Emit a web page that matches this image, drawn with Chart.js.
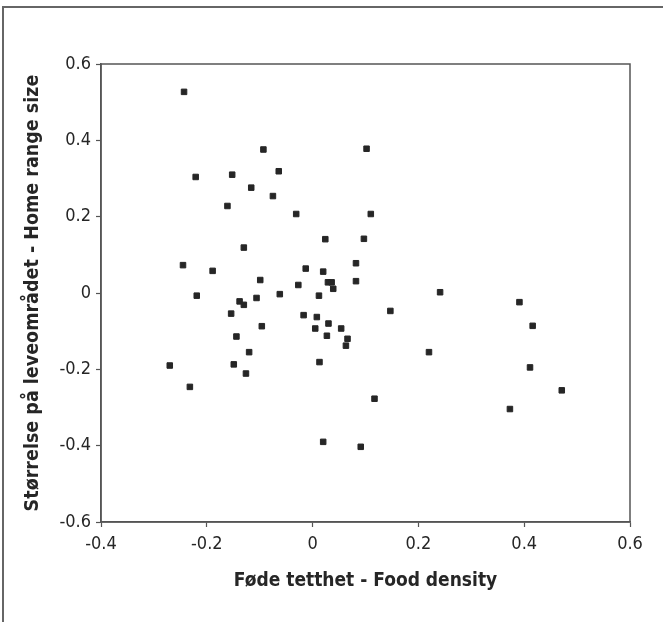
<!DOCTYPE html>
<html>
<head>
<meta charset="utf-8">
<script src="https://cdn.jsdelivr.net/npm/chart.js@4"></script>
<style>
  html, body { margin: 0; padding: 0; background: #fff; }
  #wrap { width: 663px; height: 622px; position: relative; }
</style>
</head>
<body>
<div id="wrap"><canvas id="myChart" width="663" height="622"></canvas></div>
<script>
// food density (x) and home range size (y)
const foodDensity = [
  -0.243, -0.093, -0.064, -0.221, -0.152, -0.116, -0.075, -0.161, -0.031, -0.130,
  0.024, -0.245, -0.189, -0.013, 0.020, -0.099, -0.027, 0.029, 0.036, 0.039,
  0.082, 0.082, -0.219, -0.062, 0.012, 0.102, 0.110, 0.097, 0.241, -0.154,
  -0.138, -0.130, -0.106, -0.096, -0.144, -0.120, -0.270, -0.149, -0.126, -0.232,
  -0.017, 0.008, 0.005, 0.030, 0.027, 0.054, 0.066, 0.063, 0.013, 0.020,
  0.147, 0.391, 0.416, 0.220, 0.411, 0.471, 0.373, 0.117, 0.091
];
const homeRange = [
  0.527, 0.376, 0.319, 0.304, 0.310, 0.276, 0.254, 0.228, 0.207, 0.119,
  0.141, 0.073, 0.058, 0.064, 0.056, 0.034, 0.021, 0.028, 0.028, 0.011,
  0.078, 0.031, -0.007, -0.003, -0.007, 0.378, 0.207, 0.142, 0.002, -0.054,
  -0.022, -0.031, -0.013, -0.087, -0.114, -0.155, -0.190, -0.187, -0.211, -0.246,
  -0.058, -0.063, -0.093, -0.080, -0.112, -0.093, -0.120, -0.138, -0.181, -0.390,
  -0.047, -0.024, -0.086, -0.155, -0.195, -0.255, -0.304, -0.277, -0.403
];
const xTicks = [-0.4, -0.2, 0, 0.2, 0.4, 0.6];
const yTicks = [-0.6, -0.4, -0.2, 0, 0.2, 0.4, 0.6];
const xTitle = "Føde tetthet - Food density";
const yTitle = "Størrelse på leveområdet - Home range size";

const points = foodDensity.map((x, i) => ({ x: x, y: homeRange[i] }));
const fontFamily = "'DejaVu Sans Condensed', 'Open Sans', sans-serif";
const ink = "#262626";

// box around plot area and the outer frame of the figure
const frame = {
  id: "frame",
  afterDraw(chart) {
    const c = chart.ctx;
    const a = chart.chartArea;
    c.save();
    c.strokeStyle = "#555";
    c.lineWidth = 1.5;
    c.strokeRect(a.left, a.top, a.right - a.left, a.bottom - a.top);
    c.strokeStyle = "#666";
    c.lineWidth = 2;
    c.beginPath();
    c.moveTo(3, 622);
    c.lineTo(3, 7);
    c.lineTo(663, 7);
    c.stroke();
    c.restore();
  }
};

const ctx = document.getElementById("myChart").getContext("2d");
new Chart(ctx, {
  type: "scatter",
  data: {
    datasets: [{
      data: points,
      pointStyle: "rect",
      pointRadius: 3.9,
      borderWidth: 1,
      backgroundColor: ink,
      borderColor: ink
    }]
  },
  options: {
    responsive: false,
    animation: false,
    layout: { padding: { top: 64, right: 33, left: 0, bottom: 0 } },
    plugins: { legend: { display: false }, tooltip: { enabled: false } },
    scales: {
      x: {
        type: "linear",
        min: -0.4,
        max: 0.6,
        afterFit(scale) { scale.height = 100; },
        afterBuildTicks(scale) { scale.ticks = xTicks.map(v => ({ value: v })); },
        grid: { drawOnChartArea: false, tickLength: 5, tickColor: "#555", tickWidth: 1.2 },
        border: { color: "#555", width: 1.5 },
        ticks: {
          padding: 7,
          color: ink,
          font: { family: fontFamily, size: 18 },
          callback: v => String(+v.toFixed(1))
        },
        title: {
          display: true,
          text: xTitle,
          color: ink,
          font: { family: fontFamily, size: 19, weight: "bold" },
          padding: { top: 0, bottom: 30 }
        }
      },
      y: {
        type: "linear",
        min: -0.6,
        max: 0.6,
        afterFit(scale) { scale.width = 101; },
        afterBuildTicks(scale) { scale.ticks = yTicks.map(v => ({ value: v })); },
        grid: { drawOnChartArea: false, tickLength: 5, tickColor: "#555", tickWidth: 1.2 },
        border: { color: "#555", width: 1.5 },
        ticks: {
          padding: 5,
          color: ink,
          font: { family: fontFamily, size: 18 },
          callback: v => String(+v.toFixed(1))
        },
        title: {
          display: true,
          text: yTitle,
          color: ink,
          font: { family: fontFamily, size: 19.5, weight: "bold" },
          padding: { top: 21, bottom: 0 }
        }
      }
    }
  },
  plugins: [frame]
});
</script>
</body>
</html>
